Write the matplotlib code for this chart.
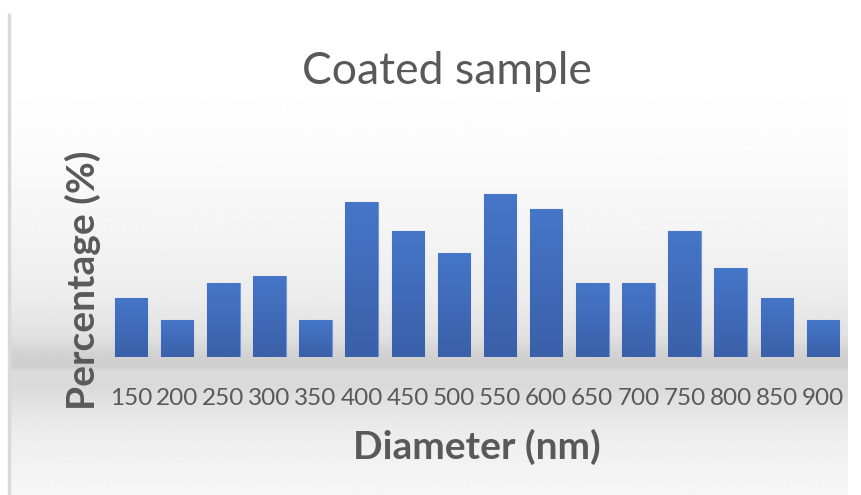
import numpy as np
import matplotlib
matplotlib.use("Agg")
import matplotlib.pyplot as plt
from matplotlib.colors import LinearSegmentedColormap

# Size classes and their share of particles
diameters = ["150", "200", "250", "300", "350", "400", "450", "500",
             "550", "600", "650", "700", "750", "800", "850", "900"]
percentages = [8, 5, 10, 11, 5, 21, 17, 14, 22, 20, 10, 10, 17, 12, 8, 5]

title_text = "Coated sample"
xlabel_text = "Diameter (nm)"
ylabel_text = "Percentage (%)"

W, H = 862, 495
fig = plt.figure(figsize=(W / 100, H / 100), dpi=100)
fig.patch.set_facecolor("white")

# Chart-area background: soft vertical gradient with a darker band at the baseline
bg = fig.add_axes([0, 0, 1, 1], zorder=0)
bg.set_xlim(0, W)
bg.set_ylim(H, 0)
bg.axis("off")
stops_y = [0, 40, 120, 200, 280, 320, 345, 355, 360, 375, 410, 450, 495]
stops_v = [1.0, 1.0, 0.985, 0.96, 0.925, 0.885, 0.815, 0.81, 0.86, 0.855, 0.91, 0.945, 0.965]
yy = np.arange(H)
vals = np.interp(yy, stops_y, stops_v)
grad = np.repeat(vals[:, None], 2, axis=1)
bg.imshow(grad, extent=[11, 848, H, 40], cmap="gray", vmin=0, vmax=1,
          aspect="auto", interpolation="bilinear")
bg.plot([9.5, 9.5], [13, H], color="#d9d9d9", lw=2.5, solid_capstyle="butt")

# Plot area
ax = fig.add_axes([108 / W, (H - 357) / H, (846 - 108) / W, (357 - 172) / H], zorder=1)
ax.patch.set_alpha(0)
x = np.arange(len(diameters))
bars = ax.bar(x, percentages, width=0.705, color="#4472c4",
              edgecolor="#7396d6", linewidth=0.8, zorder=2)

bar_cmap = LinearSegmentedColormap.from_list("barfill", ["#3a60a9", "#4676c8"])
col = np.linspace(0, 1, 64)[:, None]
for b in bars:
    x0, w, h = b.get_x(), b.get_width(), b.get_height()
    im = ax.imshow(col, extent=[x0, x0 + w, 0, h], origin="lower", cmap=bar_cmap,
                   aspect="auto", zorder=2.5, interpolation="bilinear")
    im.set_clip_path(b)

ax.set_xlim(-0.5, len(diameters) - 0.5)
ax.set_ylim(0, 25)
ax.set_xticks(x)
ax.set_xticklabels(diameters)
ax.set_yticks([])
for s in ax.spines.values():
    s.set_visible(False)
ax.tick_params(axis="x", length=0, pad=22, labelsize=17.5, labelcolor="#595959")
for lbl in ax.get_xticklabels():
    lbl.set_fontfamily("Lato")

fig.text(447 / W, 1 - 71 / H, title_text, ha="center", va="center",
         fontsize=32, color="#595959", family="Lato")
fig.text(477 / W, 1 - 447 / H, xlabel_text, ha="center", va="center",
         fontsize=28, fontweight="bold", color="#595959", family="Lato")
fig.text(83 / W, 1 - 280 / H, ylabel_text, ha="center", va="center", rotation=90,
         fontsize=28, fontweight="bold", color="#595959", family="Lato")

fig.savefig("out.png", dpi=100)
